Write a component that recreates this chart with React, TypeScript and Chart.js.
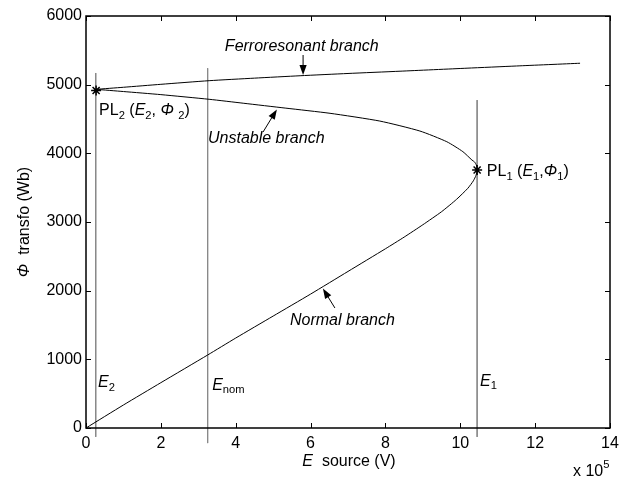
import React, { useEffect, useRef } from "react";
import { Chart, registerables } from "chart.js";
Chart.register(...registerables);

// ---- data (E in units of 1e5 V, Phi in Wb) ----
const normalE = [0, 1, 2, 3.25, 4, 5, 6, 7, 8, 8.5, 9, 9.5, 9.9, 10.2, 10.35, 10.42, 10.45];
const normalPhi = [0, 335, 660, 1063, 1310, 1630, 1950, 2280, 2610, 2780, 2960, 3150, 3330, 3490, 3600, 3680, 3757];
const unstableE = [10.45, 10.43, 10.38, 10.31, 10.07, 9.64, 8.92, 7.85, 6.52, 5.34, 4.2, 3.29, 2, 1, 0.27];
const unstablePhi = [3757, 3830, 3875, 3903, 4024, 4169, 4325, 4470, 4583, 4658, 4730, 4787, 4855, 4900, 4932];
const ferroE = [0.27, 1, 2, 3.29, 4.5, 5.72, 7, 8.39, 10.18, 11.5, 13.2];
const ferroPhi = [4932, 4962, 5005, 5058, 5095, 5130, 5163, 5196, 5240, 5272, 5312];

const refLineE = [0.26, 3.25, 10.45];
const refLineTop = [5170, 5240, 4776];
const refLineBottom = [-130, -220, -130];

const pointE = [10.45, 0.27];
const pointPhi = [3757, 4915];

const xTickValues = [0, 2, 4, 6, 8, 10, 12, 14];
const yTickValues = [0, 1000, 2000, 3000, 4000, 5000, 6000];

const FONT = '"Liberation Sans", Arial, Helvetica, sans-serif';
const FS = 16;

type Seg = { t: string; it?: boolean; sub?: boolean; sup?: boolean };

function drawRich(ctx: CanvasRenderingContext2D, x: number, y: number, segs: Seg[], size = FS) {
  let cx = x;
  ctx.textBaseline = "alphabetic";
  ctx.textAlign = "left";
  for (const s of segs) {
    const fs = s.sub || s.sup ? size * 0.7 : size;
    ctx.font = `${s.it ? "italic " : ""}${fs}px ${FONT}`;
    const dy = s.sub ? size * 0.22 : s.sup ? -size * 0.5 : 0;
    ctx.fillText(s.t, cx, y + dy);
    cx += ctx.measureText(s.t).width;
  }
  return cx - x;
}

function richWidth(ctx: CanvasRenderingContext2D, segs: Seg[], size = FS) {
  let w = 0;
  for (const s of segs) {
    const fs = s.sub || s.sup ? size * 0.7 : size;
    ctx.font = `${s.it ? "italic " : ""}${fs}px ${FONT}`;
    w += ctx.measureText(s.t).width;
  }
  return w;
}

function arrow(ctx: CanvasRenderingContext2D, x1: number, y1: number, x2: number, y2: number) {
  const a = Math.atan2(y2 - y1, x2 - x1);
  const len = 10;
  const hw = 3.6;
  ctx.beginPath();
  ctx.moveTo(x1, y1);
  ctx.lineTo(x2 - Math.cos(a) * len * 0.8, y2 - Math.sin(a) * len * 0.8);
  ctx.lineWidth = 1;
  ctx.strokeStyle = "#000";
  ctx.stroke();
  ctx.beginPath();
  ctx.moveTo(x2, y2);
  ctx.lineTo(x2 - Math.cos(a) * len - Math.sin(a) * hw, y2 - Math.sin(a) * len + Math.cos(a) * hw);
  ctx.lineTo(x2 - Math.cos(a) * len + Math.sin(a) * hw, y2 - Math.sin(a) * len - Math.cos(a) * hw);
  ctx.closePath();
  ctx.fillStyle = "#000";
  ctx.fill();
}

const decorPlugin = {
  id: "decor",
  afterDraw(chart: any) {
    const ctx: CanvasRenderingContext2D = chart.ctx;
    const xs = chart.scales.x;
    const ys = chart.scales.y;
    const { left, right, top, bottom } = chart.chartArea;
    const X = (v: number) => xs.getPixelForValue(v);
    const Y = (v: number) => ys.getPixelForValue(v);
    ctx.save();
    // frame and inward ticks
    ctx.strokeStyle = "#000";
    ctx.lineWidth = 1.5;
    ctx.strokeRect(left, top, right - left, bottom - top);
    ctx.lineWidth = 1;
    const tl = 5;
    ctx.beginPath();
    for (const v of xTickValues) {
      const px = Math.round(X(v)) + 0.5;
      ctx.moveTo(px, bottom);
      ctx.lineTo(px, bottom - tl);
      ctx.moveTo(px, top);
      ctx.lineTo(px, top + tl);
    }
    for (const v of yTickValues) {
      const py = Math.round(Y(v)) + 0.5;
      ctx.moveTo(left, py);
      ctx.lineTo(left + tl, py);
      ctx.moveTo(right, py);
      ctx.lineTo(right - tl, py);
    }
    ctx.stroke();

    ctx.fillStyle = "#000";
    // annotations
    drawRich(ctx, X(3.71), Y(5490), [{ t: "Ferroresonant branch", it: true }]);
    arrow(ctx, X(5.8), Y(5432), X(5.8), Y(5140));
    drawRich(ctx, X(0.35), Y(4558), [
      { t: "PL" }, { t: "2", sub: true }, { t: " (" }, { t: "E", it: true }, { t: "2", sub: true },
      { t: ", " }, { t: "Φ", it: true }, { t: " " }, { t: "2", sub: true }, { t: ")" },
    ]);
    drawRich(ctx, X(3.26), Y(4150), [{ t: "Unstable branch", it: true }]);
    arrow(ctx, X(4.73), Y(4310), X(5.1), Y(4640));
    drawRich(ctx, X(10.71), Y(3670), [
      { t: "PL" }, { t: "1", sub: true }, { t: " (" }, { t: "E", it: true }, { t: "1", sub: true },
      { t: "," }, { t: "Φ", it: true }, { t: "1", sub: true }, { t: ")" },
    ]);
    drawRich(ctx, X(5.45), Y(1500), [{ t: "Normal branch", it: true }]);
    arrow(ctx, X(6.65), Y(1748), X(6.33), Y(2030));
    drawRich(ctx, X(0.32), Y(597), [{ t: "E", it: true }, { t: "2", sub: true }]);
    drawRich(ctx, X(3.37), Y(560), [{ t: "E", it: true }, { t: "nom", sub: true }]);
    drawRich(ctx, X(10.53), Y(612), [{ t: "E", it: true }, { t: "1", sub: true }]);

    // axis titles
    const xt: Seg[] = [{ t: "E", it: true }, { t: "  source (V)" }];
    const xw = richWidth(ctx, xt);
    drawRich(ctx, (left + right) / 2 - xw / 2 + 1, 466, xt);
    drawRich(ctx, 573, 476, [{ t: "x 10" }, { t: "5", sup: true }], FS);

    const yt: Seg[] = [{ t: "Φ", it: true }, { t: "  transfo (Wb)" }];
    const yw = richWidth(ctx, yt);
    ctx.save();
    ctx.translate(29, (top + bottom) / 2);
    ctx.rotate(-Math.PI / 2);
    drawRich(ctx, -yw / 2, 0, yt);
    ctx.restore();

    ctx.restore();
  },
};

export default function App() {
  const ref = useRef<HTMLCanvasElement | null>(null);
  useEffect(() => {
    document.body.style.margin = "0";
    const canvas = ref.current!;
    const mainCurve = normalE
      .map((e, i) => ({ x: e, y: normalPhi[i] }))
      .concat(unstableE.slice(1).map((e, i) => ({ x: e, y: unstablePhi[i + 1] })));
    const ferroCurve = ferroE.map((e, i) => ({ x: e, y: ferroPhi[i] }));
    const refDatasets = refLineE.map((e, i) => ({
      data: [
        { x: e, y: refLineTop[i] },
        { x: e, y: refLineBottom[i] },
      ],
      showLine: true,
      borderColor: "#8a8a8a",
      borderWidth: 1,
      pointRadius: 0,
      clip: false as any,
      order: 3,
    }));
    const chart = new Chart(canvas, {
      type: "scatter",
      data: {
        datasets: [
          ...refDatasets,
          {
            data: mainCurve,
            showLine: true,
            borderColor: "#000",
            borderWidth: 1,
            pointRadius: 0,
            tension: 0.2,
            order: 2,
          },
          {
            data: ferroCurve,
            showLine: true,
            borderColor: "#000",
            borderWidth: 1,
            pointRadius: 0,
            tension: 0.2,
            order: 2,
          },
          {
            data: pointE.map((e, i) => ({ x: e, y: pointPhi[i] })),
            showLine: false,
            pointStyle: "star",
            pointRadius: 5,
            borderColor: "#000",
            backgroundColor: "#000",
            borderWidth: 1.5,
            order: 1,
          },
        ] as any,
      },
      options: {
        responsive: false,
        animation: false,
        events: [],
        layout: { padding: { top: 16, right: 15, left: 0, bottom: 0 } },
        plugins: { legend: { display: false }, tooltip: { enabled: false } },
        scales: {
          x: {
            type: "linear",
            min: 0,
            max: 14,
            grid: { display: false, drawTicks: false },
            border: { display: false },
            ticks: {
              color: "#000",
              font: { size: FS, family: FONT },
              padding: 6,
              maxRotation: 0,
              callback: (v: any) => String(v),
            },
            afterBuildTicks: (s: any) => {
              s.ticks = xTickValues.map((v) => ({ value: v }));
            },
            afterFit: (s: any) => {
              s.height = 50;
            },
          },
          y: {
            type: "linear",
            min: 0,
            max: 6000,
            grid: { display: false, drawTicks: false },
            border: { display: false },
            ticks: {
              color: "#000",
              font: { size: FS, family: FONT },
              padding: 4,
              callback: (v: any) => String(v),
            },
            afterBuildTicks: (s: any) => {
              s.ticks = yTickValues.map((v) => ({ value: v }));
            },
            afterFit: (s: any) => {
              s.width = 86;
            },
          },
        },
      },
      plugins: [decorPlugin],
    });
    return () => chart.destroy();
  }, []);
  return (
    <div style={{ position: "absolute", left: 0, top: 0, width: 625, height: 478 }}>
      <canvas ref={ref} width={625} height={478} />
    </div>
  );
}
